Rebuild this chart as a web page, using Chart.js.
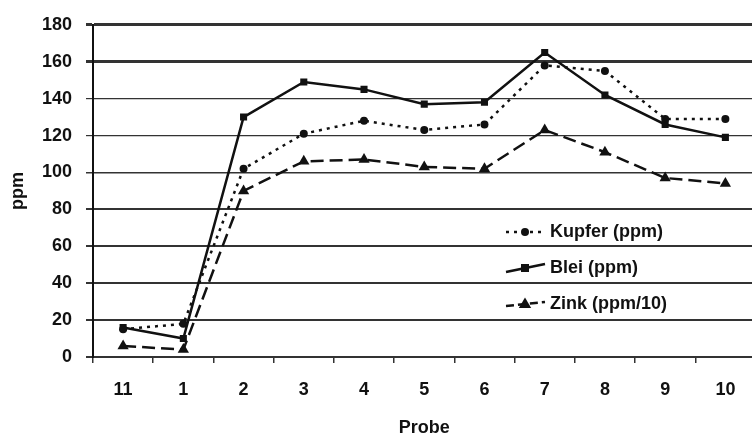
<!DOCTYPE html>
<html>
<head>
<meta charset="utf-8">
<script src="https://cdn.jsdelivr.net/npm/chart.js@4/dist/chart.umd.min.js"></script>
<style>
  html, body { margin: 0; padding: 0; background: #fff; overflow: hidden; }
  #wrap { width: 762px; height: 439px; position: relative; }
</style>
</head>
<body>
<div id="wrap"><canvas id="c" width="762" height="439"></canvas></div>
<script>
const categories = ['11', '1', '2', '3', '4', '5', '6', '7', '8', '9', '10'];
const kupfer = [15, 18, 102, 121, 128, 123, 126, 158, 155, 129, 129];
const blei   = [16, 10, 130, 149, 145, 137, 138, 165, 142, 126, 119];
const zink   = [6, 4, 90, 106, 107, 103, 102, 123, 111, 97, 94];
const seriesNames = ['Kupfer (ppm)', 'Blei (ppm)', 'Zink (ppm/10)'];
const yTicks = [0, 20, 40, 60, 80, 100, 120, 140, 160, 180];

const FONT = 'Liberation Sans, Arial, sans-serif';
const INK = '#111';

const styles = [
  { dash: [3, 5], width: 2.5, point: 'circle', radius: 4 },
  { dash: [], width: 2.5, point: 'rect', radius: 5 },
  { dash: [13, 6], width: 2.5, point: 'triangle', radius: 6.5 }
];

function drawMarker(ctx, type, x, y, r) {
  ctx.save();
  ctx.setLineDash([]);
  ctx.fillStyle = INK;
  ctx.beginPath();
  if (type === 'circle') {
    ctx.arc(x, y, r, 0, Math.PI * 2);
  } else if (type === 'rect') {
    ctx.rect(x - r * 0.8, y - r * 0.8, r * 1.6, r * 1.6);
  } else {
    ctx.moveTo(x, y - r);
    ctx.lineTo(x + r * 0.95, y + r * 0.6);
    ctx.lineTo(x - r * 0.95, y + r * 0.6);
    ctx.closePath();
  }
  ctx.fill();
  ctx.restore();
}

const legendPlugin = {
  id: 'inlineLegend',
  afterDatasetsDraw(chart) {
    const ctx = chart.ctx;
    const rows = [232, 268, 304];
    ctx.save();
    seriesNames.forEach((name, i) => {
      const y = rows[i];
      const st = styles[i];
      ctx.strokeStyle = INK;
      ctx.lineWidth = 2.5;
      ctx.setLineDash(st.dash.length ? (i === 2 ? [8, 4] : st.dash) : []);
      ctx.beginPath();
      if (i === 1) { ctx.moveTo(506, y + 4); ctx.lineTo(545, y - 4); }
      else if (i === 2) { ctx.moveTo(506, y + 2); ctx.lineTo(545, y - 2); }
      else { ctx.moveTo(506, y); ctx.lineTo(545, y); }
      ctx.stroke();
      drawMarker(ctx, st.point, 525, y, st.radius);
      ctx.setLineDash([]);
      ctx.fillStyle = INK;
      ctx.font = 'bold 18px ' + FONT;
      ctx.textBaseline = 'middle';
      ctx.textAlign = 'left';
      ctx.fillText(name, 550, y);
    });
    ctx.restore();
  }
};

const gridWidths = { 0: 2, 20: 2, 40: 2, 60: 2, 80: 2, 100: 1.5, 120: 1.2, 140: 1.2, 160: 3, 180: 3 };

new Chart(document.getElementById('c'), {
  type: 'line',
  data: {
    labels: categories,
    datasets: [kupfer, blei, zink].map((d, i) => ({
      label: seriesNames[i],
      data: d,
      borderColor: INK,
      backgroundColor: INK,
      borderWidth: styles[i].width,
      borderDash: styles[i].dash,
      pointStyle: styles[i].point,
      pointRadius: styles[i].radius,
      pointBackgroundColor: INK,
      pointBorderColor: INK,
      pointBorderWidth: 0,
      tension: 0,
      fill: false
    }))
  },
  options: {
    responsive: false,
    animation: false,
    devicePixelRatio: 1,
    layout: { padding: { top: 18, right: 4, left: 0, bottom: 0 } },
    plugins: { legend: { display: false }, tooltip: { enabled: false } },
    scales: {
      x: {
        type: 'category',
        offset: true,
        afterFit(s) { s.height = 82; },
        grid: { display: true, drawOnChartArea: false, offset: true, tickLength: 6, color: '#333', lineWidth: 1.5 },
        border: { display: true, color: '#333', width: 2 },
        ticks: { color: INK, font: { family: FONT, size: 18, weight: 'bold' }, padding: 16, maxRotation: 0 },
        title: { display: true, text: 'Probe', color: INK, font: { family: FONT, size: 18, weight: 'bold' }, padding: { top: 0, bottom: 0 } }
      },
      y: {
        min: 0, max: 180,
        afterFit(s) { s.width = 93; },
        afterBuildTicks(s) { s.ticks = yTicks.map(v => ({ value: v })); },
        grid: {
          color: '#333',
          lineWidth: (c) => gridWidths[c.tick ? c.tick.value : 0] || 1.5,
          tickLength: 7
        },
        border: { display: true, color: INK, width: 2 },
        ticks: { color: INK, font: { family: FONT, size: 18, weight: 'bold' }, padding: 14 },
        title: { display: true, text: 'ppm', color: INK, font: { family: FONT, size: 18, weight: 'bold' }, padding: { top: 7, bottom: 0 } }
      }
    }
  },
  plugins: [legendPlugin]
});
</script>
</body>
</html>
